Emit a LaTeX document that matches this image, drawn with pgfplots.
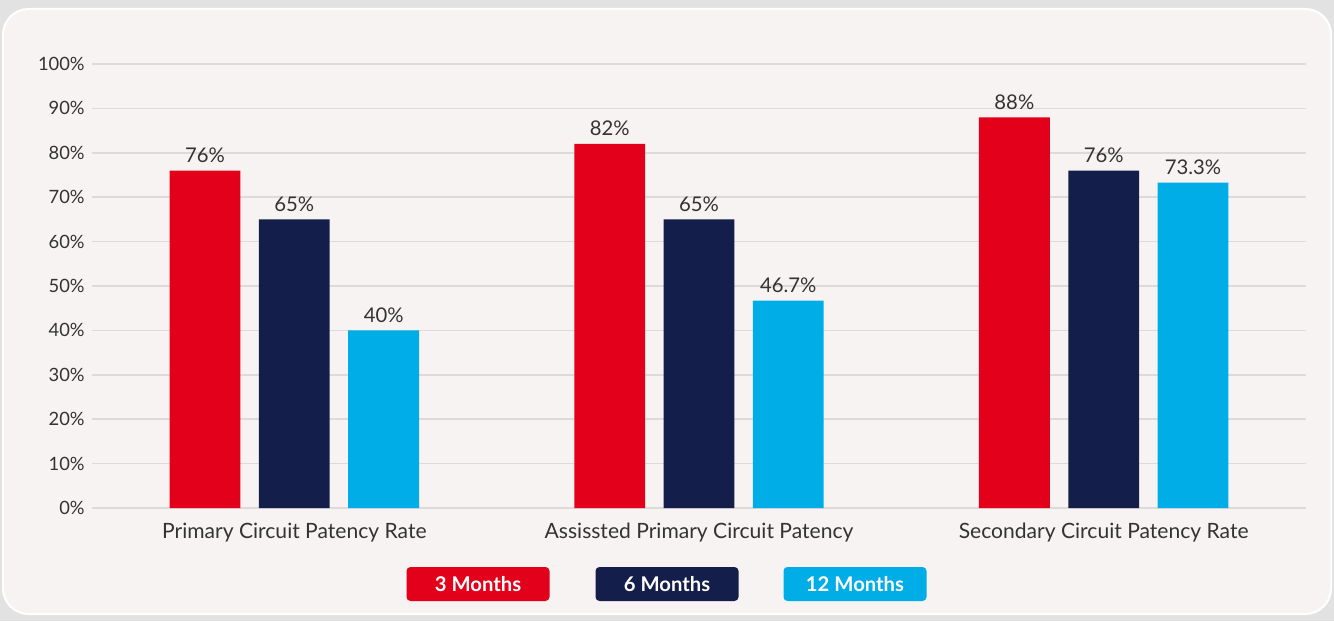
\documentclass[border=0pt]{standalone}
\usepackage{pgfplots}
\pgfplotsset{compat=1.18}
\usepackage{pgfplotstable}
\usepackage{fontspec}
\setmainfont{Lato}
\definecolor{cred}{HTML}{E2001A}
\definecolor{cnavy}{HTML}{141E4B}
\definecolor{ccyan}{HTML}{00ADE6}
\definecolor{cbg}{HTML}{F8F3F3}
\definecolor{couter}{HTML}{E2E2E2}
\definecolor{cgrid}{HTML}{DEDADA}
\definecolor{ctext}{HTML}{333333}
\pgfplotstableread{
x y
0 76
1 82
2 88
}\threem
\pgfplotstableread{
x y
0 65
1 65
2 76
}\sixm
\pgfplotstableread{
x y
0 40
1 46.7
2 73.3
}\twelvem
\begin{document}
\begin{tikzpicture}
\fill[couter] (0pt,0pt) rectangle (1000.5pt,465.75pt);
\fill[white, rounded corners=20pt] (1.5pt,4.5pt) rectangle (999pt,459.75pt);
\fill[cbg, rounded corners=18.75pt] (3pt,6pt) rectangle (997.5pt,458.25pt);
\begin{axis}[
  at={(69pt,84.75pt)}, anchor=south west,
  scale only axis, width=910.5pt, height=333pt,
  xmin=-0.5, xmax=2.5, ymin=0, ymax=100,
  ybar,
  axis line style={draw=none},
  major tick length=0pt,
  ymajorgrids, grid style={cgrid, line width=1.1pt},
  xtick={0,1,2},
  xticklabels={Primary Circuit Patency Rate, Assissted Primary Circuit Patency, Secondary Circuit Patency Rate},
  ytick={0,10,...,100},
  yticklabels={0\%,10\%,20\%,30\%,40\%,50\%,60\%,70\%,80\%,90\%,100\%},
  yticklabel style={font=\fontsize{13.75}{15}\selectfont, text=ctext, xshift=-2pt},
  xticklabel style={font=\fontsize{15.8}{18}\selectfont, text=ctext, yshift=-8pt},
  clip=false,
  bar width=0.175,
  nodes near coords={\pgfmathprintnumber[assume math mode=true]{\pgfplotspointmeta}\%},
  every node near coord/.append style={font=\fontsize{15.2}{17}\selectfont, text=ctext, yshift=2.5pt},
]
\addplot[bar shift=-0.2207, fill=cred, draw=none] table[x=x,y=y] {\threem};
\addplot[bar shift=0, fill=cnavy, draw=none] table[x=x,y=y] {\sixm};
\addplot[bar shift=0.2207, fill=ccyan, draw=none] table[x=x,y=y] {\twelvem};
\end{axis}
\tikzset{leg/.style={minimum width=107.25pt, minimum height=25.5pt, rounded corners=3pt, text=white, font=\fontsize{15.2}{17}\selectfont\bfseries, inner sep=0pt}}
\node[leg, fill=cred] at (358.5pt,27.75pt) {3 Months};
\node[leg, fill=cnavy] at (500.25pt,27.75pt) {6 Months};
\node[leg, fill=ccyan] at (641.25pt,27.75pt) {12 Months};
\end{tikzpicture}
\end{document}
